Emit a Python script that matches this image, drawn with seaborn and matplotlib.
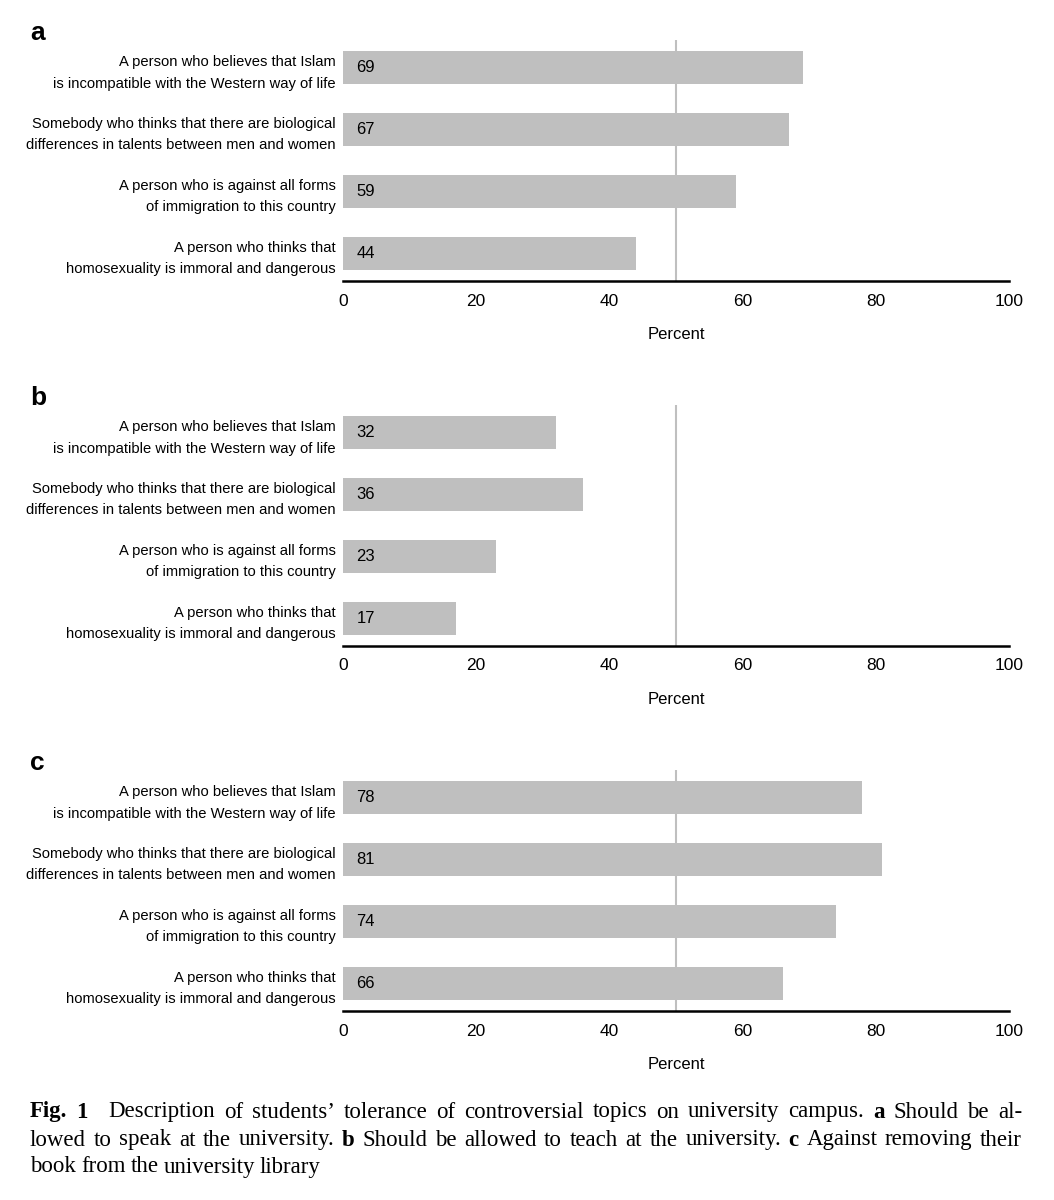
import matplotlib
matplotlib.use("Agg")
import matplotlib.pyplot as plt
import seaborn as sns

# Data
statements = [
    "A person who believes that Islam\nis incompatible with the Western way of life",
    "Somebody who thinks that there are biological\ndifferences in talents between men and women",
    "A person who is against all forms\nof immigration to this country",
    "A person who thinks that\nhomosexuality is immoral and dangerous",
]
speak_pct = [69, 67, 59, 44]
teach_pct = [32, 36, 23, 17]
library_pct = [78, 81, 74, 66]
panel_letters = ["a", "b", "c"]
x_ticks = [0, 20, 40, 60, 80, 100]

sns.set_style("white")
plt.rcParams["font.family"] = ["Liberation Sans", "DejaVu Sans"]
plt.rcParams["text.color"] = "black"
plt.rcParams["axes.labelcolor"] = "black"
plt.rcParams["xtick.color"] = "black"
plt.rcParams["ytick.color"] = "black"

fig = plt.figure(figsize=(10.54, 12), dpi=100)
W, H = 1054, 1200

bar_color = "#bfbfbf"
panels = [(speak_pct, 40, 281), (teach_pct, 405, 646), (library_pct, 770, 1011)]

for (vals, top_px, bot_px), letter in zip(panels, panel_letters):
    ax = fig.add_axes([343 / W, 1 - bot_px / H, (1009 - 343) / W, (bot_px - top_px) / H])
    sns.barplot(x=vals, y=statements, orient="h", color=bar_color, width=0.53,
                saturation=1, linewidth=0, edgecolor="none", ax=ax)
    ax.set_xlim(0, 100)
    ax.set_ylim(3.44, -0.45)
    ax.axvline(50, color=bar_color, lw=1.5, zorder=0)
    ax.set_xticks(x_ticks)
    ax.set_xticklabels([str(t) for t in x_ticks], fontsize=12.5)
    ax.tick_params(axis="x", direction="in", length=5, width=1.5, color="black", pad=9)
    ax.tick_params(axis="y", length=0, pad=5, labelsize=10.6)
    for lab in ax.get_yticklabels():
        lab.set_linespacing(1.65)
    for s in ["top", "right", "left"]:
        ax.spines[s].set_visible(False)
    ax.spines["bottom"].set_color("black")
    ax.spines["bottom"].set_linewidth(1.8)
    ax.set_xlabel("Percent", fontsize=12, labelpad=13)
    ax.set_ylabel("")
    for i, v in enumerate(vals):
        ax.text(2, i, str(v), va="center", ha="left", fontsize=12)
    fig.text(30 / W, 1 - (top_px - 7) / H, letter, fontsize=19, fontweight="bold",
             va="center", ha="left")

# Caption with mixed bold words, justified lines
cap_lines = [
    [("Fig. 1", True), ("Description of students\u2019 tolerance of controversial topics on university campus.", False),
     ("a", True), ("Should be al-", False)],
    [("lowed to speak at the university.", False), ("b", True), ("Should be allowed to teach at the university.", False),
     ("c", True), ("Against removing their", False)],
    [("book from the university library", False)],
]
cap_y = [1112, 1140, 1167]
fig.canvas.draw()
renderer = fig.canvas.get_renderer()
x_left, x_right = 30, 1022
for li, (line, ypx) in enumerate(zip(cap_lines, cap_y)):
    words = []
    for txt, bold in line:
        for w in txt.split(" "):
            words.append((w, bold))
    arts = []
    widths = []
    for w, bold in words:
        t = fig.text(0, 1 - ypx / H, w, fontsize=16.5, family="Liberation Serif",
                     fontweight="bold" if bold else "normal", va="center", ha="left")
        bb = t.get_window_extent(renderer)
        arts.append(t)
        widths.append(bb.width)
    extra = 12 if li == 0 else 0
    total = sum(widths) + extra
    n_gaps = len(words) - 1
    if li < 2 and n_gaps > 0:
        gap = (x_right - x_left - total) / n_gaps
    else:
        gap = 5
    x = x_left
    for k, (t, wd) in enumerate(zip(arts, widths)):
        t.set_x(x / W)
        x += wd + gap
        if li == 0 and k == 1:
            x += extra

fig.savefig("out.png", dpi=100)
